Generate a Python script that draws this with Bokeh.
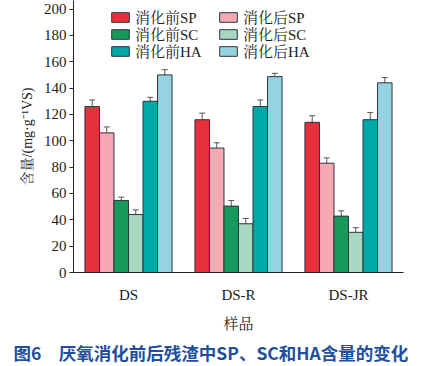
from bokeh.plotting import figure
from bokeh.models import (ColumnDataSource, FactorRange, Range1d, Whisker, TeeHead,
                          Legend, LegendItem, FixedTicker, Title)
from bokeh.transform import dodge
from bokeh.embed import file_html
from bokeh.resources import INLINE

groups = ["DS", "DS-R", "DS-JR"]
series_names = ["消化前SP", "消化后SP", "消化前SC", "消化后SC", "消化前HA", "消化后HA"]
before_sp = [126, 116, 114]
after_sp = [106, 94.5, 83]
before_sc = [54.7, 50.4, 42.8]
after_sc = [44, 37, 30.5]
before_ha = [130, 126, 116]
after_ha = [150, 148.7, 144]
err_before_sp = [5, 5, 5]
err_after_sp = [4.5, 4, 4]
err_before_sc = [2.5, 4.3, 4]
err_after_sc = [3.5, 4, 3.5]
err_before_ha = [3, 5, 5.5]
err_after_ha = [4, 2.5, 4]
y_ticks = [0, 20, 40, 60, 80, 100, 120, 140, 160, 180, 200]

values = [before_sp, after_sp, before_sc, after_sc, before_ha, after_ha]
errors = [err_before_sp, err_after_sp, err_before_sc, err_after_sc, err_before_ha, err_after_ha]
colors = ["#e8303c", "#f5a9b2", "#16995a", "#a8d8c1", "#00a9a7", "#94d4e0"]
offsets = [-0.33, -0.198, -0.066, 0.066, 0.198, 0.33]
bar_w = 0.132

serif = "Liberation Serif, Noto Serif CJK SC, serif"

p = figure(x_range=FactorRange(factors=groups, range_padding=0),
           y_range=Range1d(0, 206.5),
           frame_width=330, frame_height=272,
           min_border_left=73, min_border_right=5, min_border_top=0, min_border_bottom=78,
           output_backend="svg", toolbar_location=None)
p.outline_line_color = None
p.xgrid.grid_line_color = None
p.ygrid.grid_line_color = None
p.background_fill_color = "white"

renderers = []
for vals, errs, col, off in zip(values, errors, colors, offsets):
    src = ColumnDataSource(dict(x=groups, top=vals,
                                upper=[v + e for v, e in zip(vals, errs)],
                                lower=[v - e for v, e in zip(vals, errs)]))
    r = p.vbar(x=dodge("x", off, range=p.x_range), top="top", width=bar_w, bottom=0,
               source=src, fill_color=col, line_color="#2b3440", line_width=1)
    renderers.append(r)
    w = Whisker(base=dodge("x", off, range=p.x_range), upper="upper", lower="lower",
                source=src, line_color="#555555", line_width=1,
                upper_head=TeeHead(size=6, line_color="#555555", line_width=1),
                lower_head=TeeHead(size=6, line_color="#555555", line_width=1))
    p.add_layout(w)

# one legend entry per box: two columns, three rows
col_x = [36, 144]
row_y = [245, 228, 211]
for i in range(6):
    leg = Legend(items=[LegendItem(label=series_names[i], renderers=[renderers[i]])],
                 location=(col_x[i % 2], row_y[i // 2]), orientation="vertical",
                 padding=0, margin=0, spacing=0,
                 glyph_width=22, glyph_height=12, label_height=14,
                 label_standoff=4, label_text_font=serif, label_text_font_size="15px",
                 label_text_color="#222222",
                 border_line_color=None, background_fill_alpha=0)
    p.add_layout(leg, "center")

p.yaxis.ticker = FixedTicker(ticks=y_ticks)
for ax in (p.xaxis[0], p.yaxis[0]):
    ax.axis_line_color = "#222222"
    ax.major_label_text_font = serif
    ax.major_label_text_font_size = "15px"
    ax.major_label_text_color = "#222222"
    ax.minor_tick_line_color = None
    ax.axis_label_text_font = serif
    ax.axis_label_text_font_style = "normal"
    ax.axis_label_text_color = "#222222"
p.yaxis.major_tick_line_color = "#222222"
p.yaxis.major_tick_out = 4
p.yaxis.major_tick_in = 0
p.yaxis.major_label_standoff = 3
p.yaxis.axis_label = "含量/(mg·g⁻¹VS)"
p.yaxis.axis_label_text_font_size = "14px"
p.yaxis.axis_label_standoff = 6
p.xaxis.major_tick_line_color = None
p.xaxis.major_label_standoff = 8
p.xaxis.axis_label = "样品"
p.xaxis.axis_label_text_font_size = "15px"
p.xaxis.axis_label_standoff = 10

cap = Title(text="图6　厌氧消化前后残渣中SP、SC和HA含量的变化", align="left", offset=-60,
            text_font="Noto Sans CJK SC", text_font_size="17.5px", text_font_style="bold",
            text_color="#1f4f9e", standoff=6)
p.add_layout(cap, "below")

open("out.html", "w").write(file_html(p, INLINE))
